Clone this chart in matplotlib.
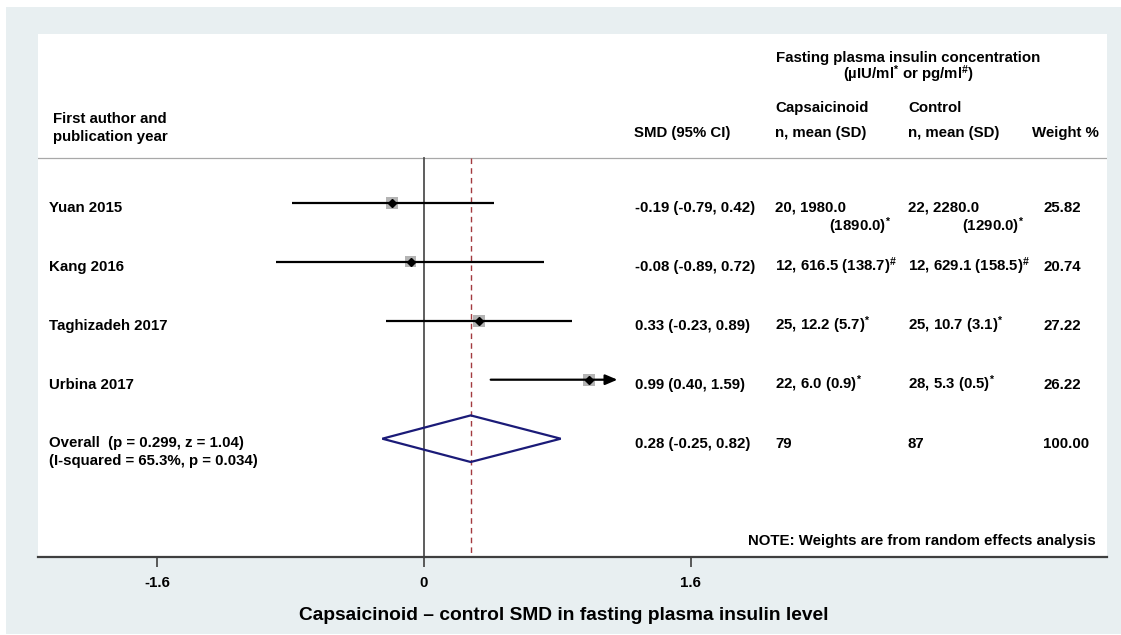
import matplotlib
matplotlib.use("Agg")
import matplotlib.pyplot as plt
from matplotlib.patches import Rectangle, Polygon
from matplotlib.transforms import blended_transform_factory

plt.rcParams["font.family"] = ["Liberation Sans", "DejaVu Sans"]
plt.rcParams["font.weight"] = "bold"
plt.rcParams["mathtext.fontset"] = "custom"
plt.rcParams["mathtext.default"] = "regular"
plt.rcParams["mathtext.rm"] = "Liberation Sans:bold"
plt.rcParams["mathtext.bf"] = "Liberation Sans:bold"

# ---- study data ----
studies = ["Yuan 2015", "Kang 2016", "Taghizadeh 2017", "Urbina 2017"]
smd = [-0.19, -0.08, 0.33, 0.99]
ci_lo = [-0.79, -0.89, -0.23, 0.40]
ci_hi = [0.42, 0.72, 0.89, 1.59]
weights = [25.82, 20.74, 27.22, 26.22]
caps_n = [20, 12, 25, 22]
caps_mean = [1980.0, 616.5, 12.2, 6.0]
caps_sd = [1890.0, 138.7, 5.7, 0.9]
ctrl_n = [22, 12, 25, 28]
ctrl_mean = [2280.0, 629.1, 10.7, 5.3]
ctrl_sd = [1290.0, 158.5, 3.1, 0.5]
unit_marks = ["*", "#", "*", "*"]

# ---- pooled estimate ----
overall_smd = 0.28
overall_lo = -0.25
overall_hi = 0.82
overall_p = 0.299
overall_z = 1.04
i_squared = 65.3
het_p = 0.034
caps_total = 79
ctrl_total = 87
weight_total = 100.00

xticks = [-1.6, 0, 1.6]
xtick_labels = ["-1.6", "0", "1.6"]

# ---- layout ----
W, H = 1121, 635
X_CLIP = 1.16          # right edge of the plotting zone for confidence intervals
FS = 10.8
BG = "#E8EFF1"

fig = plt.figure(figsize=(W / 100, H / 100), dpi=100)
fig.patch.set_facecolor("white")

# outer tinted frame drawn as a full-figure axes behind the plot panel
bg_ax = fig.add_axes([0, 0, 1, 1], zorder=-5)
bg_ax.set_xlim(0, W)
bg_ax.set_ylim(H, 0)
bg_ax.axis("off")
bg_ax.add_patch(Rectangle((6, 7), W - 6, 634 - 7, facecolor=BG,
                          edgecolor="none"))

ax = fig.add_axes([38 / W, 1 - 557 / H, (1107 - 38) / W, (557 - 34) / H])
ax.set_facecolor("white")
px_per_unit = 166.75
ax.set_xlim((38 - 424) / px_per_unit, (1107 - 424) / px_per_unit)
row_px = 59.0
ax.set_ylim((557 - 202.7) / row_px, (34 - 202.7) / row_px)


def ypx(p):
    """Pixel row (from top) to data y."""
    return (p - 202.7) / row_px


for s in ["top", "left", "right"]:
    ax.spines[s].set_visible(False)
ax.spines["bottom"].set_color("#3F3F3F")
ax.spines["bottom"].set_linewidth(1.6)
ax.set_yticks([])
ax.set_xticks(xticks)
ax.set_xticklabels(xtick_labels, fontsize=FS, fontweight="bold")
ax.tick_params(axis="x", direction="out", length=7, width=1.2,
               color="#3F3F3F", pad=7)

# header rule and reference lines
hdr_y = ypx(158.3)
ax.axhline(hdr_y, color="#A8A8A8", lw=0.9, zorder=1)
y_bottom = ax.get_ylim()[0]
ax.plot([0, 0], [hdr_y, y_bottom], color="#505050", lw=1.3, zorder=1,
        clip_on=False)
ax.plot([overall_smd, overall_smd], [hdr_y, y_bottom], color="#A33A3F",
        lw=1.0, dashes=(4, 3), zorder=1, clip_on=False)

rows = list(range(len(studies)))

# weight boxes (area proportional to weight), CIs and point estimates
ax.scatter(smd, rows, s=[2.9 * w for w in weights], marker="s",
           color="#B4B4B4", edgecolors="none", zorder=2)
for i in rows:
    if ci_hi[i] > X_CLIP:
        ax.annotate("", xy=(X_CLIP, i), xytext=(ci_lo[i], i),
                    arrowprops=dict(arrowstyle="-|>,head_length=0.4,head_width=0.17",
                                    lw=1.6, color="black", mutation_scale=18,
                                    shrinkA=0, shrinkB=0),
                    zorder=3)
    else:
        ax.plot([ci_lo[i], ci_hi[i]], [i, i], color="black", lw=1.6,
                solid_capstyle="butt", zorder=3)
ax.plot(smd, rows, linestyle="none", marker="D", markersize=4.4,
        color="black", zorder=4)

# pooled diamond
oy = len(studies)
dh = 23.3 / row_px
ax.add_patch(Polygon([(overall_lo, oy), (overall_smd, oy - dh),
                      (overall_hi, oy), (overall_smd, oy + dh)],
                     closed=True, fill=False, edgecolor="#1B1B78", lw=1.6,
                     zorder=4))

# ---- text columns ----
tr = blended_transform_factory(fig.transFigure, ax.transData)


def put(xp, y, s, ha="left", fs=FS):
    ax.text(xp / W, y, s, transform=tr, ha=ha, va="baseline",
            fontsize=fs, fontweight="bold", color="black")


def sup(mark):
    return r"$^{\#}$" if mark == "#" else r"$^{*}$"


COL_LABEL = 49
COL_SMD = 635
COL_CAPS = 775
COL_CTRL = 908
COL_W = 1043
COL_WIDTH = 116
base = 9 / row_px

# headers
put(53, ypx(123.3), "First author and")
put(53, ypx(141.0), "publication year")
put(COL_SMD - 1, ypx(137.3), "SMD (95% CI)")
put(COL_CAPS, ypx(112.3), "Capsaicinoid")
put(COL_CAPS, ypx(137.3), "n, mean (SD)")
put(COL_CTRL, ypx(112.3), "Control")
put(COL_CTRL, ypx(137.3), "n, mean (SD)")
put(1032.5, ypx(137.3), "Weight %")
put(908, ypx(61.7), "Fasting plasma insulin concentration", ha="center")
put(908, ypx(79.3), "(µIU/ml" + sup("*") + " or pg/ml" + sup("#") + ")",
    ha="center")

for i in rows:
    y = i + base
    put(COL_LABEL, y, studies[i])
    put(COL_SMD, y, f"{smd[i]:.2f} ({ci_lo[i]:.2f}, {ci_hi[i]:.2f})")
    put(COL_W, y, f"{weights[i]:.2f}")
    for col, n, m, sd in ((COL_CAPS, caps_n[i], caps_mean[i], caps_sd[i]),
                          (COL_CTRL, ctrl_n[i], ctrl_mean[i], ctrl_sd[i])):
        head = f"{n}, {m:.1f}"
        tail = f"({sd:.1f})" + sup(unit_marks[i])
        if m >= 1000:
            put(col, y, head)
            put(col + COL_WIDTH, y + 19 / row_px, tail, ha="right")
        else:
            put(col, y, head + " " + tail)

y = oy + base
put(COL_LABEL, ypx(447.3),
    f"Overall  (p = {overall_p:.3f}, z = {overall_z:.2f})")
put(COL_LABEL, ypx(465.0), f"(I-squared = {i_squared:.1f}%, p = {het_p:.3f})")
put(COL_SMD, y, f"{overall_smd:.2f} ({overall_lo:.2f}, {overall_hi:.2f})")
put(COL_CAPS, y, f"{caps_total}")
put(COL_CTRL, y, f"{ctrl_total}")
put(COL_W, y, f"{weight_total:.2f}")

put(1096, ypx(545), "NOTE: Weights are from random effects analysis",
    ha="right")

fig.text(564 / W, 1 - 620 / H,
         "Capsaicinoid \u2013 control SMD in fasting plasma insulin level",
         ha="center", va="baseline", fontsize=13.8, fontweight="bold")

fig.savefig("out.png", dpi=100, facecolor=fig.get_facecolor())
